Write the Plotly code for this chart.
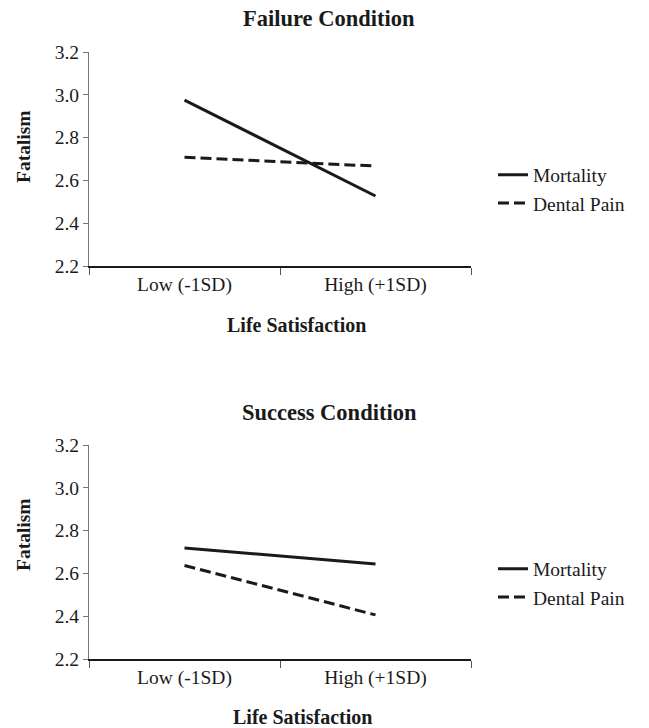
import plotly.graph_objects as go

categories = ["Low (-1SD)", "High (+1SD)"]
failure_mortality = [2.975, 2.527]
failure_dental = [2.708, 2.667]
success_mortality = [2.719, 2.644]
success_dental = [2.637, 2.406]
y_ticks = [2.2, 2.4, 2.6, 2.8, 3.0, 3.2]
y_tick_labels = ["2.2", "2.4", "2.6", "2.8", "3.0", "3.2"]

FONT = "Liberation Serif"
INK = "#1a1a1a"

# plot-area geometry (pixels)
L, R, T, B = 89, 471, 52, 659
W, H = 649, 728
PH = B - T

fig = go.Figure()

def add_pair(mort, dent, xa, ya, leg):
    fig.add_trace(go.Scatter(x=categories, y=mort, mode="lines", name="Mortality",
                             line=dict(color=INK, width=3), xaxis=xa, yaxis=ya,
                             legend=leg, legendgroup=leg + "m"))
    fig.add_trace(go.Scatter(x=categories, y=dent, mode="lines", name="Dental Pain",
                             line=dict(color=INK, width=3, dash="11px,5px"), xaxis=xa, yaxis=ya,
                             legend=leg, legendgroup=leg + "d"))

add_pair(failure_mortality, failure_dental, "x", "y", "legend")
add_pair(success_mortality, success_dental, "x2", "y2", "legend2")

def py(p):
    return (B - p) / PH

def px(p):
    return (p - L) / (R - L)

top_dom = [py(266), 1.0]
bot_dom = [0.0, py(445)]

xcommon = dict(type="category", range=[-0.5, 1.5], showline=True, linecolor=INK, linewidth=2,
               ticks="outside", tickson="boundaries", ticklen=7, tickcolor="#555", tickwidth=1,
               showgrid=False, zeroline=False, automargin=False,
               tickfont=dict(family=FONT, size=19.5, color=INK), domain=[0, 1])
ycommon = dict(range=[2.2, 3.2], tickvals=y_ticks, ticktext=y_tick_labels, showline=True,
               linecolor="#777", linewidth=1, ticks="outside", ticklen=5, tickcolor="#777",
               showgrid=False, zeroline=False, automargin=False,
               tickfont=dict(family=FONT, size=19.5, color=INK))

legend_common = dict(font=dict(family=FONT, size=19.5, color=INK), bgcolor="rgba(0,0,0,0)",
                     xanchor="left", yanchor="middle", tracegroupgap=0, itemwidth=30)

fig.update_layout(
    width=W, height=H,
    margin=dict(l=L, r=W - R, t=T, b=H - B, autoexpand=False),
    paper_bgcolor="white", plot_bgcolor="white",
    showlegend=True,
    xaxis=dict(**xcommon, anchor="y"),
    yaxis=dict(**ycommon, domain=top_dom, anchor="x"),
    xaxis2=dict(**xcommon, anchor="y2"),
    yaxis2=dict(**ycommon, domain=bot_dom, anchor="x2"),
    legend=dict(**legend_common, x=px(493), y=py(189)),
    legend2=dict(**legend_common, x=px(493), y=py(583)),
)

def ann(text, x, y, size=19, angle=0):
    fig.add_annotation(text=f"<b>{text}</b>", x=px(x), y=py(y), xref="paper", yref="paper",
                       showarrow=False, textangle=angle,
                       font=dict(family=FONT, size=size, color=INK),
                       xanchor="center", yanchor="middle")

ann("Failure Condition", 329, 18, size=22.5)
ann("Life Satisfaction", 296, 325, size=20)
ann("Fatalism", 23, 147, size=19.5, angle=-90)
ann("Success Condition", 329, 412, size=22.5)
ann("Life Satisfaction", 302, 717, size=20)
ann("Fatalism", 23, 535, size=19.5, angle=-90)

fig.write_html("out.html", config={"displayModeBar": False},
               post_script="document.body.style.margin='0';document.body.style.padding='0';")
